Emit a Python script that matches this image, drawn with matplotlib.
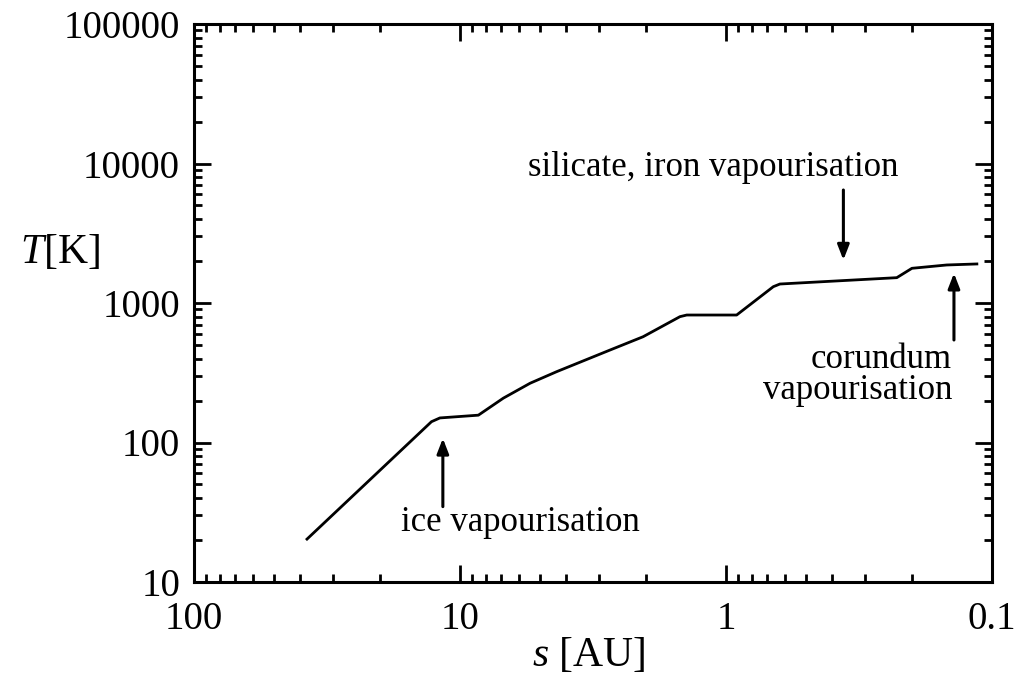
import matplotlib
matplotlib.use('Agg')
import matplotlib.pyplot as plt
from matplotlib.ticker import LogLocator, NullFormatter, FixedLocator

# Midplane temperature versus distance from the star
s_au = [37.6, 12.8, 11.9, 8.53, 6.87, 5.45, 4.33, 2.73, 2.05,
        1.49, 1.405, 0.912, 0.664, 0.627, 0.228, 0.200, 0.148, 0.114]
temp_k = [20.3, 141, 150, 157, 208, 266, 322, 460, 573,
          798, 820, 820, 1309, 1368, 1519, 1773, 1873, 1905]

x_ticks = [100, 10, 1, 0.1]
x_labels = ['100', '10', '1', '0.1']
y_ticks = [10, 100, 1000, 10000, 100000]
y_labels = ['10', '100', '1000', '10000', '100000']

plt.rcParams['font.family'] = ['Liberation Serif', 'DejaVu Serif']
plt.rcParams['mathtext.fontset'] = 'custom'
plt.rcParams['mathtext.it'] = 'Liberation Serif:italic'
plt.rcParams['mathtext.rm'] = 'Liberation Serif'

fig = plt.figure(figsize=(10.16, 6.82), dpi=100)
ax = fig.add_axes([194 / 1016, 100 / 682, 798 / 1016, 558 / 682])

ax.plot(s_au, temp_k, color='black', linewidth=2.0, solid_joinstyle='round')

ax.set_xscale('log')
ax.set_yscale('log')
ax.set_xlim(100, 0.1)
ax.set_ylim(10, 100000)

ax.xaxis.set_major_locator(FixedLocator(x_ticks))
ax.set_xticklabels(x_labels)
ax.yaxis.set_major_locator(FixedLocator(y_ticks))
ax.set_yticklabels(y_labels)
for axis in (ax.xaxis, ax.yaxis):
    axis.set_minor_locator(LogLocator(base=10, subs=range(2, 10), numticks=20))
    axis.set_minor_formatter(NullFormatter())

ax.tick_params(which='both', direction='in', top=True, right=True,
               labelsize=28, width=2)
ax.tick_params(axis='x', pad=14)
ax.tick_params(axis='y', pad=10)
ax.tick_params(which='major', length=12)
ax.tick_params(which='minor', length=6)
for sp in ax.spines.values():
    sp.set_linewidth(2.2)

ax.set_xlabel(r'$s$ [AU]', fontsize=30, va='center')
ax.xaxis.set_label_coords(0.494, -0.131)
ax.set_ylabel(r'$T$[K]', fontsize=30, rotation=0, va='center', ha='center')
ax.yaxis.set_label_coords(-0.168, 0.591)

arrow = dict(arrowstyle='-|>,head_length=0.9,head_width=0.35',
             color='black', linewidth=2.2, shrinkA=0, shrinkB=0)

ax.annotate('', xy=(11.6, 107), xytext=(11.6, 34.7), arrowprops=arrow)
ax.text(5.95, 26.5, 'ice vapourisation', fontsize=25,
        ha='center', va='center')

ax.annotate('', xy=(0.362, 2033), xytext=(0.362, 6457), arrowprops=arrow)
ax.text(1.119, 9290, 'silicate, iron vapourisation', fontsize=25,
        ha='center', va='center')

ax.annotate('', xy=(0.139, 1633), xytext=(0.139, 543), arrowprops=arrow)
ax.text(0.1413, 305, 'corundum\nvapourisation', fontsize=25,
        ha='right', va='center', multialignment='right', linespacing=0.9)

fig.savefig('out.png', dpi=100, facecolor='white')
